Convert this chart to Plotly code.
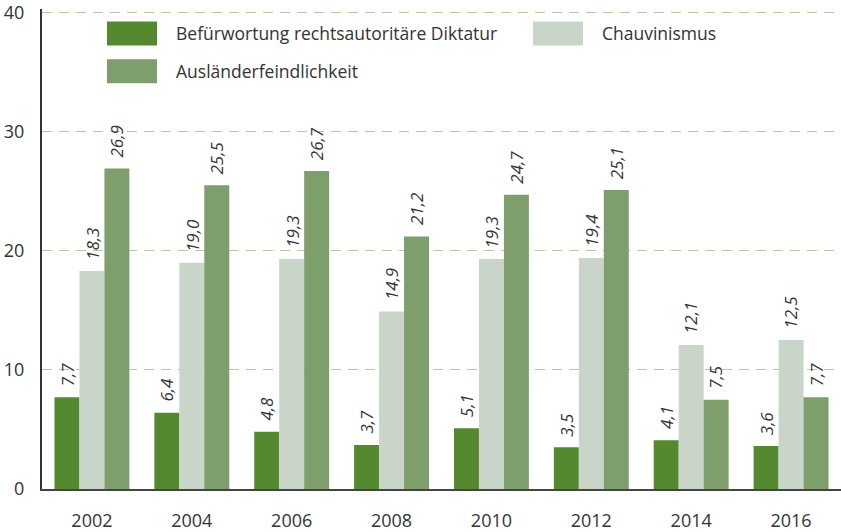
import plotly.graph_objects as go

years = ["2002", "2004", "2006", "2008", "2010", "2012", "2014", "2016"]
series_names = ["Befürwortung rechtsautoritäre Diktatur", "Chauvinismus", "Ausländerfeindlichkeit"]
diktatur = [7.7, 6.4, 4.8, 3.7, 5.1, 3.5, 4.1, 3.6]
chauvinismus = [18.3, 19.0, 19.3, 14.9, 19.3, 19.4, 12.1, 12.5]
auslaender = [26.9, 25.5, 26.7, 21.2, 24.7, 25.1, 7.5, 7.7]
y_ticks = [0, 10, 20, 30, 40]

colors = ["#54892f", "#c9d5c9", "#7e9f6c"]
values = [diktatur, chauvinismus, auslaender]
FONT = "Open Sans"
TXT = "#333333"

Y_MAX = 40.3
PLOT_TOP = 490 - 479 * Y_MAX / 40  # pixel row of plot top
PLOT_H = 490 - PLOT_TOP

fig = go.Figure()
for name, vals, col in zip(series_names, values, colors):
    fig.add_trace(go.Bar(x=years, y=vals, name=name, marker=dict(color=col, line=dict(width=0)),
                         showlegend=False))

annotations = []
for si, vals in enumerate(values):
    for ci, v in enumerate(vals):
        annotations.append(dict(
            x=ci + (si - 1) * 0.25, y=v, xref="x", yref="y",
            text=f"{v:.1f}".replace(".", ","), showarrow=False,
            textangle=-90, xanchor="center", yanchor="bottom", yshift=9,
            font=dict(family=FONT, size=17, color=TXT, style="italic")))

# manual legend (pixel positions converted to paper coords)
legend_items = [  # series idx, rect left px, row
    (0, 107, 0),
    (1, 533, 0),
    (2, 107, 1),
]
shapes = []
for si, left, row in legend_items:
    x0 = (left - 42) / 799
    x1 = (left + 50 - 42) / 799
    y_top = 20 + row * 38
    y_bot = y_top + 24
    p_top = 1 - (y_top - PLOT_TOP) / PLOT_H
    p_bot = 1 - (y_bot - PLOT_TOP) / PLOT_H
    shapes.append(dict(type="rect", xref="paper", yref="paper", x0=x0, x1=x1, y0=p_bot, y1=p_top,
                       fillcolor=colors[si], line=dict(width=0), layer="above"))
    annotations.append(dict(xref="paper", yref="paper", x=x1 + 17 / 799, y=(p_top + p_bot) / 2,
                            text=series_names[si], showarrow=False, xanchor="left", yanchor="middle",
                            font=dict(family=FONT, size=17.5, color=TXT)))

fig.update_layout(
    width=841, height=532,
    margin=dict(l=42, r=0, t=PLOT_TOP, b=42),
    paper_bgcolor="white", plot_bgcolor="white",
    barmode="group", bargap=0.25, bargroupgap=0,
    font=dict(family=FONT, color=TXT),
    shapes=shapes, annotations=annotations,
    xaxis=dict(type="category", showline=True, linecolor="#444444", linewidth=2,
               ticks="outside", ticklen=14, tickcolor="rgba(0,0,0,0)",
               tickfont=dict(family=FONT, size=18, color=TXT), showgrid=False),
    yaxis=dict(range=[0, Y_MAX], tickvals=y_ticks, showline=True, linecolor="#333333", linewidth=2,
               ticks="outside", ticklen=12, tickcolor="rgba(0,0,0,0)",
               tickfont=dict(family=FONT, size=18, color=TXT), ticklabeloverflow="allow",
               showgrid=True, gridcolor="#b5c9aa", griddash="10px,7px", gridwidth=1,
               zeroline=False),
)

fig.write_html("out.html", config={"displayModeBar": False},
               post_script="document.body.style.margin='0';")
